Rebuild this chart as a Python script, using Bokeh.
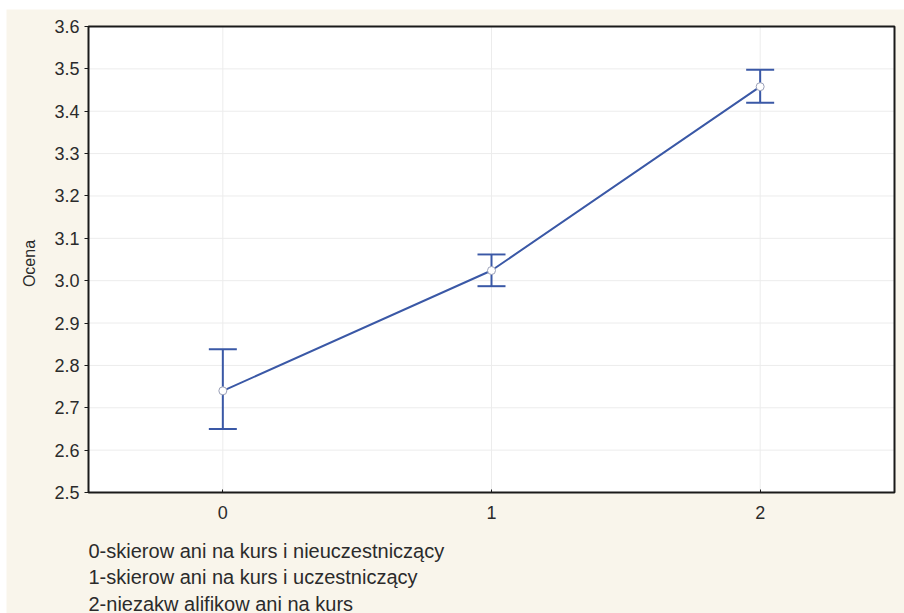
import math
from bokeh.plotting import figure
from bokeh.models import (Range1d, FixedTicker, Whisker, ColumnDataSource, TeeHead,
                          NumeralTickFormatter)
from bokeh.core.properties import value
from bokeh.embed import file_html
from bokeh.resources import INLINE

# ---- data ----
groups = [0, 1, 2]
means = [2.74, 3.024, 3.458]
upper = [2.838, 3.062, 3.498]
lower = [2.65, 2.987, 3.42]
y_ticks = [2.5, 2.6, 2.7, 2.8, 2.9, 3.0, 3.1, 3.2, 3.3, 3.4, 3.5, 3.6]
x_ticks = [0, 1, 2]
x_limits = (-0.5, 2.5)
y_label = "Ocena"
legend_lines = [
    "0-skierow ani na kurs i nieuczestniczący",
    "1-skierow ani na kurs i uczestniczący",
    "2-niezakw alifikow ani na kurs",
]

# ---- style / layout ----
FONT = "Liberation Sans"
TXT = "#2b2b2b"
BLUE = "#3a58a6"
BG = "#f9f5eb"
W, H = 898, 604
BOX_L, BOX_T = 82, 17          # plot box position inside the canvas (px)
BOX_W, BOX_H = 806, 466        # plot box size (px)
LEGEND_OFFSETS = [58, 84.5, 111]  # px below the plot box (line middles)
YLABEL_DX, YLABEL_DY = 59, 4      # px left of the box / below the box middle

ymin_box, ymax_box = y_ticks[0], y_ticks[-1]
ppx = BOX_W / (x_limits[1] - x_limits[0])
ppy = BOX_H / (ymax_box - ymin_box)
x_range = Range1d(x_limits[0] - BOX_L / ppx, x_limits[1] + (W - BOX_L - BOX_W) / ppx)
y_range = Range1d(ymin_box - (H - BOX_T - BOX_H) / ppy, ymax_box + BOX_T / ppy)

p = figure(width=W, height=H, output_backend="svg", toolbar_location=None,
           x_range=x_range, y_range=y_range,
           min_border_left=0, min_border_right=0,
           min_border_top=0, min_border_bottom=0)
p.margin = (9, 0, 0, 6)

p.border_fill_color = BG
p.background_fill_color = BG
p.outline_line_color = None
p.grid.visible = False

# white plot box, grid lines inside it, and its black frame
p.quad(left=[x_limits[0]], right=[x_limits[1]], bottom=[ymin_box], top=[ymax_box],
       fill_color="white", line_color=None, level="image")
grid_src = ColumnDataSource(dict(
    x0=list(x_ticks) + [x_limits[0]] * len(y_ticks),
    x1=list(x_ticks) + [x_limits[1]] * len(y_ticks),
    y0=[ymin_box] * len(x_ticks) + list(y_ticks),
    y1=[ymax_box] * len(x_ticks) + list(y_ticks)))
p.segment("x0", "y0", "x1", "y1", source=grid_src, line_color="#ececec",
          line_width=1, level="image")
p.quad(left=[x_limits[0]], right=[x_limits[1]], bottom=[ymin_box], top=[ymax_box],
       fill_color=None, line_color="#1a1a1a", line_width=2)

# axes, fixed on the edges of the plot box
p.yaxis.ticker = FixedTicker(ticks=y_ticks)
p.yaxis.formatter = NumeralTickFormatter(format="0.0")
p.yaxis.fixed_location = x_limits[0]
p.xaxis.ticker = FixedTicker(ticks=x_ticks)
p.xaxis.fixed_location = ymin_box
for ax in (p.xaxis[0], p.yaxis[0]):
    ax.axis_line_color = None
    ax.minor_tick_line_color = None
    ax.major_tick_line_color = "#1a1a1a"
    ax.major_label_text_font = FONT
    ax.major_label_text_font_size = "18px"
    ax.major_label_text_color = TXT
p.yaxis.major_tick_out = 4
p.yaxis.major_tick_in = 0
p.yaxis.major_label_standoff = 5
p.xaxis.major_tick_out = 0
p.xaxis.major_tick_in = 3
p.xaxis.major_label_standoff = 13

# y axis title
p.text(x=[x_limits[0] - YLABEL_DX / ppx],
       y=[(ymin_box + ymax_box) / 2 - YLABEL_DY / ppy],
       text=[y_label], angle=math.pi / 2, text_font=value(FONT),
       text_font_size="16px", text_color=TXT, text_align="center",
       text_baseline="middle")

src = ColumnDataSource(dict(x=groups, m=means, up=upper, lo=lower))

whisk = Whisker(base="x", upper="up", lower="lo", source=src, dimension="height",
                line_color=BLUE, line_width=2,
                upper_head=TeeHead(size=28, line_color=BLUE, line_width=2),
                lower_head=TeeHead(size=28, line_color=BLUE, line_width=2))
p.add_layout(whisk)

p.line("x", "m", source=src, line_color=BLUE, line_width=2)
p.scatter("x", "m", source=src, size=8, marker="circle", fill_color="white",
          line_color="#9aa0b8", line_width=1)

# description of the groups, under the plot box
leg_src = ColumnDataSource(dict(
    x=[x_limits[0]] * len(legend_lines),
    y=[ymin_box - off / ppy for off in LEGEND_OFFSETS],
    t=legend_lines))
p.text("x", "y", text="t", source=leg_src, text_font=value(FONT),
       text_font_size="20px", text_color=TXT, text_baseline="middle",
       text_align="left")

open("out.html", "w").write(file_html(p, INLINE))
